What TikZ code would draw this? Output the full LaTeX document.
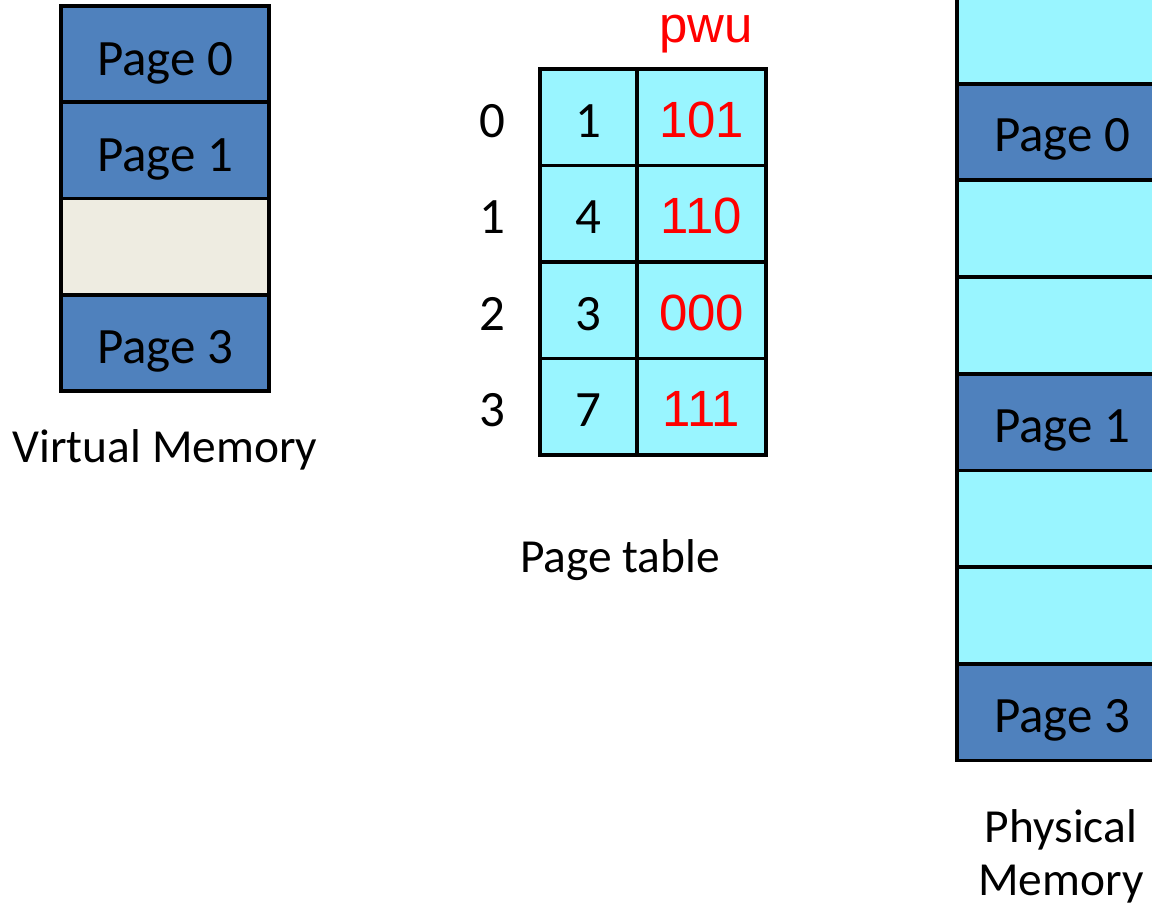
\documentclass[tikz,border=0pt]{standalone}
\usepackage{fontspec}
\setmainfont{Carlito}
\newfontfamily\redfont{Liberation Sans}
\usetikzlibrary{calc}
\definecolor{pageblue}{RGB}{79,129,189}
\definecolor{freecyan}{RGB}{153,245,255}
\definecolor{emptybeige}{RGB}{238,236,225}
\begin{document}
\begin{tikzpicture}[x=0.02cm,y=-0.02cm, line width=2.2pt,
  cellbox/.style={draw=black, inner sep=0pt, outer sep=0pt},
  vmcell/.style={cellbox, minimum width=4.16cm, minimum height=1.925cm},
  pmcell/.style={cellbox, minimum width=4.2cm, minimum height=1.934cm},
  ptleft/.style={cellbox, fill=freecyan, minimum width=1.94cm, minimum height=1.93cm},
  ptright/.style={cellbox, fill=freecyan, minimum width=2.58cm, minimum height=1.93cm},
  txt/.style={font=\fontsize{29}{29}\selectfont, inner sep=0pt, anchor=base},
  labtxt/.style={font=\fontsize{27}{27}\selectfont, inner sep=0pt, anchor=base},
  redtxt/.style={font=\redfont\fontsize{29}{29}\selectfont, text=red, inner sep=0pt, anchor=base},
]
\useasboundingbox (0,0) rectangle (1152,908);
\clip (0,0) rectangle (1152,908);

% Virtual memory
\node[vmcell, fill=pageblue]   (v0) at (165,54.1) {};
\node[vmcell, fill=pageblue]   (v1) at (165,150.4) {};
\node[vmcell, fill=emptybeige] (v2) at (165,246.6) {};
\node[vmcell, fill=pageblue]   (v3) at (165,342.9) {};
\node[txt] (v0t) at ($(v0)+(0,21)$) {Page 0};
\node[txt] (v1t) at ($(v1)+(0,21)$) {Page 1};
\node[txt] (v3t) at ($(v3)+(0,21)$) {Page 3};
\node[labtxt] (vlab) at (165,462) {Virtual Memory};

% Page table
\foreach \i/\y/\f/\b in {0/117.25/1/101, 1/213.75/4/110, 2/310.25/3/000, 3/406.75/7/111}{
  \node[ptleft]  (pl\i) at (588.5,\y) {};
  \node[ptright] (pr\i) at (701.5,\y) {};
  \node[txt] (pn\i) at ($(pl\i)+(0,20)$) {\f};
  \node[redtxt] (pb\i) at ($(pr\i)+(0,20)$) {\b};
  \node[txt] (pi\i) at ($(492,\y)+(0,20)$) {\i};
}
\node[redtxt] (pwu) at (706,43) {pwu};
\node[labtxt] (ptlab) at (620,572) {Page table};

% Physical memory
\node[pmcell, fill=freecyan] (m0) at (1062,35.35) {};
\node[pmcell, fill=pageblue] (m1) at (1062,132) {};
\node[pmcell, fill=freecyan] (m2) at (1062,228.7) {};
\node[pmcell, fill=freecyan] (m3) at (1062,325.4) {};
\node[pmcell, fill=pageblue] (m4) at (1062,422.1) {};
\node[pmcell, fill=freecyan] (m5) at (1062,518.8) {};
\node[pmcell, fill=freecyan] (m6) at (1062,615.4) {};
\node[pmcell, fill=pageblue] (m7) at (1062,712.1) {};
\node[txt] (m1t) at ($(m1)+(0,20)$) {Page 0};
\node[txt] (m4t) at ($(m4)+(0,20)$) {Page 1};
\node[txt] (m7t) at ($(m7)+(0,20)$) {Page 3};
\node[labtxt] (pmlab1) at (1061,842) {Physical};
\node[labtxt] (pmlab2) at (1061,895) {Memory};
\end{tikzpicture}
\end{document}
